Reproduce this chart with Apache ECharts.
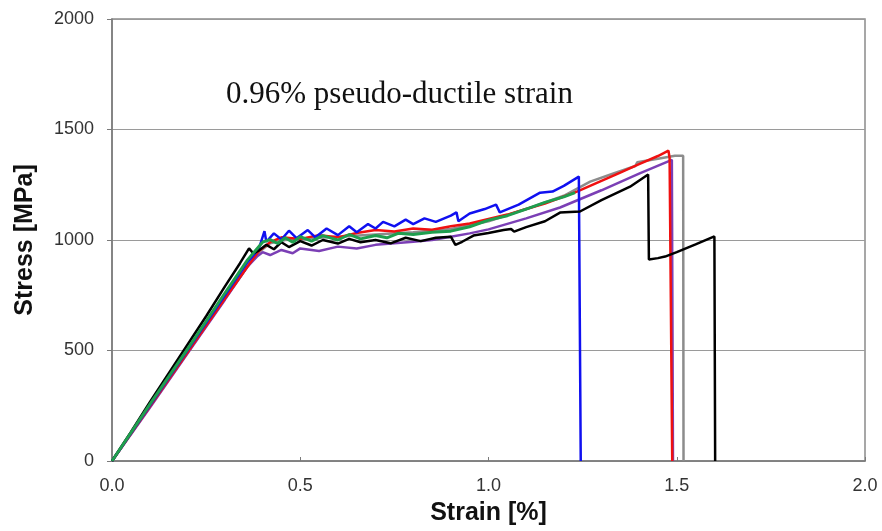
<!DOCTYPE html>
<html><head><meta charset="utf-8">
<script src="https://cdn.jsdelivr.net/npm/echarts@6/dist/echarts.min.js"></script>
<style>html,body{margin:0;padding:0;background:#fff}#c{width:882px;height:531px}</style>
</head><body><div id="c"></div>
<script>
const xTicks = ['0.0','0.5','1.0','1.5','2.0'];
const yTicks = [0,500,1000,1500,2000];
const annotation = '0.96% pseudo-ductile strain';

const grayCurve = [[0,0],[0.1,245],[0.2,490],[0.3,735],[0.36,880],[0.39,945],[0.42,985],[0.46,1000],[0.5,1005],[0.55,1010],[0.6,1015],[0.7,1025],[0.8,1035],[0.9,1050],[1.0,1085],[1.1,1140],[1.2,1200],[1.27,1264],[1.33,1300],[1.39,1335],[1.395,1352],[1.45,1368],[1.495,1381],[1.517,1381],[1.518,0]];
const purpleCurve = [[0,0],[0.1,240],[0.2,485],[0.3,730],[0.36,880],[0.385,925],[0.4,945],[0.42,932],[0.45,955],[0.48,940],[0.5,962],[0.55,950],[0.6,970],[0.65,962],[0.7,978],[0.75,985],[0.8,992],[0.85,1000],[0.9,1015],[0.95,1030],[1.0,1048],[1.1,1098],[1.19,1147],[1.3,1225],[1.4,1300],[1.487,1363],[1.49,0]];
const redCurve = [[0,0],[0.1,245],[0.2,490],[0.3,735],[0.36,880],[0.39,950],[0.42,990],[0.45,1012],[0.5,1005],[0.55,1022],[0.6,1012],[0.65,1032],[0.7,1045],[0.75,1038],[0.8,1052],[0.85,1046],[0.9,1062],[0.95,1075],[1.0,1095],[1.05,1115],[1.1,1140],[1.15,1165],[1.235,1219],[1.3,1268],[1.35,1305],[1.4,1343],[1.45,1380],[1.478,1404],[1.481,1372],[1.488,0]];
const blueCurve = [[0,0],[0.1,250],[0.2,500],[0.3,750],[0.36,900],[0.39,960],[0.405,1040],[0.41,992],[0.43,1030],[0.45,1002],[0.47,1042],[0.49,1008],[0.52,1045],[0.54,1012],[0.57,1052],[0.6,1022],[0.63,1062],[0.65,1035],[0.68,1072],[0.7,1052],[0.72,1082],[0.75,1062],[0.78,1092],[0.8,1072],[0.83,1098],[0.86,1082],[0.9,1110],[0.915,1125],[0.92,1085],[0.95,1120],[0.99,1140],[1.02,1160],[1.03,1125],[1.08,1160],[1.137,1214],[1.17,1219],[1.2,1245],[1.24,1287],[1.245,0]];
const blackCurve = [[0,0],[0.05,130],[0.1,265],[0.15,395],[0.2,525],[0.25,655],[0.3,790],[0.34,895],[0.364,962],[0.375,940],[0.39,952],[0.41,978],[0.43,958],[0.45,990],[0.47,968],[0.5,995],[0.53,975],[0.56,1000],[0.6,984],[0.63,1005],[0.66,990],[0.7,1000],[0.74,985],[0.78,1010],[0.82,995],[0.86,1010],[0.9,1015],[0.912,978],[0.93,992],[0.96,1020],[1.0,1032],[1.04,1045],[1.06,1050],[1.068,1038],[1.1,1058],[1.15,1085],[1.19,1124],[1.243,1129],[1.3,1180],[1.376,1241],[1.424,1296],[1.426,912],[1.45,918],[1.469,925],[1.5,945],[1.55,980],[1.6,1016],[1.602,0]];
const greenCurve = [[0,0],[0.1,255],[0.2,505],[0.3,760],[0.36,910],[0.38,950],[0.4,990],[0.42,1002],[0.44,984],[0.46,1010],[0.48,990],[0.5,1015],[0.53,995],[0.56,1020],[0.6,1000],[0.63,1025],[0.66,1005],[0.7,1020],[0.73,1010],[0.76,1030],[0.8,1025],[0.85,1035],[0.9,1040],[0.95,1060],[1.0,1090],[1.05,1110],[1.1,1140],[1.15,1170],[1.2,1195],[1.23,1214]];

const chart = echarts.init(document.getElementById('c'), null, {renderer:'canvas'});
function s(data, color, width) {
  return {type:'line', data:data, showSymbol:false, symbol:'none', lineStyle:{color:color, width:width}, itemStyle:{color:color}, animation:false};
}
chart.setOption({
  animation:false,
  backgroundColor:'#fff',
  grid:{left:112, right:17, top:19, bottom:69, show:true, borderColor:'#8a8a8a', borderWidth:1.5},
  xAxis:{type:'value', min:0, max:2, interval:0.5,
    name:'Strain [%]', nameLocation:'middle', nameGap:40,
    nameTextStyle:{fontFamily:'Liberation Sans, Arial', fontSize:25, fontWeight:'bold', color:'#111'},
    axisLine:{show:true, lineStyle:{color:'#7a7a7a', width:1.5}},
    axisTick:{show:true, inside:true, length:4, lineStyle:{color:'#7a7a7a'}},
    splitLine:{show:false},
    axisLabel:{margin:16, fontFamily:'Liberation Sans, Arial', fontSize:18, color:'#333', formatter:function(v){return xTicks[Math.round(v/0.5)];}}
  },
  yAxis:{type:'value', min:0, max:2000, interval:500,
    name:'Stress [MPa]', nameLocation:'middle', nameGap:74,
    nameTextStyle:{fontFamily:'Liberation Sans, Arial', fontSize:25, fontWeight:'bold', color:'#111'},
    axisLine:{show:true, lineStyle:{color:'#7a7a7a', width:1.5}},
    axisTick:{show:true, length:5, lineStyle:{color:'#7a7a7a'}},
    splitLine:{show:true, lineStyle:{color:'#9a9a9a', width:1.2}},
    axisLabel:{margin:18, fontFamily:'Liberation Sans, Arial', fontSize:18, color:'#333', formatter:function(v){return String(yTicks[Math.round(v/500)]);}}
  },
  graphic:[{type:'text', left:226, top:79, style:{text:annotation, font:'31px "Liberation Serif", "Times New Roman", serif', fill:'#111'}}],
  series:[
    s(grayCurve,'#8c8c8c',2.5),
    s(purpleCurve,'#7b3fb5',2.5),
    s(redCurve,'#f01010',2.5),
    s(blueCurve,'#1010f0',2.5),
    s(blackCurve,'#000000',2.5),
    s(greenCurve,'#1f9e4e',3)
  ]
});
</script></body></html>
